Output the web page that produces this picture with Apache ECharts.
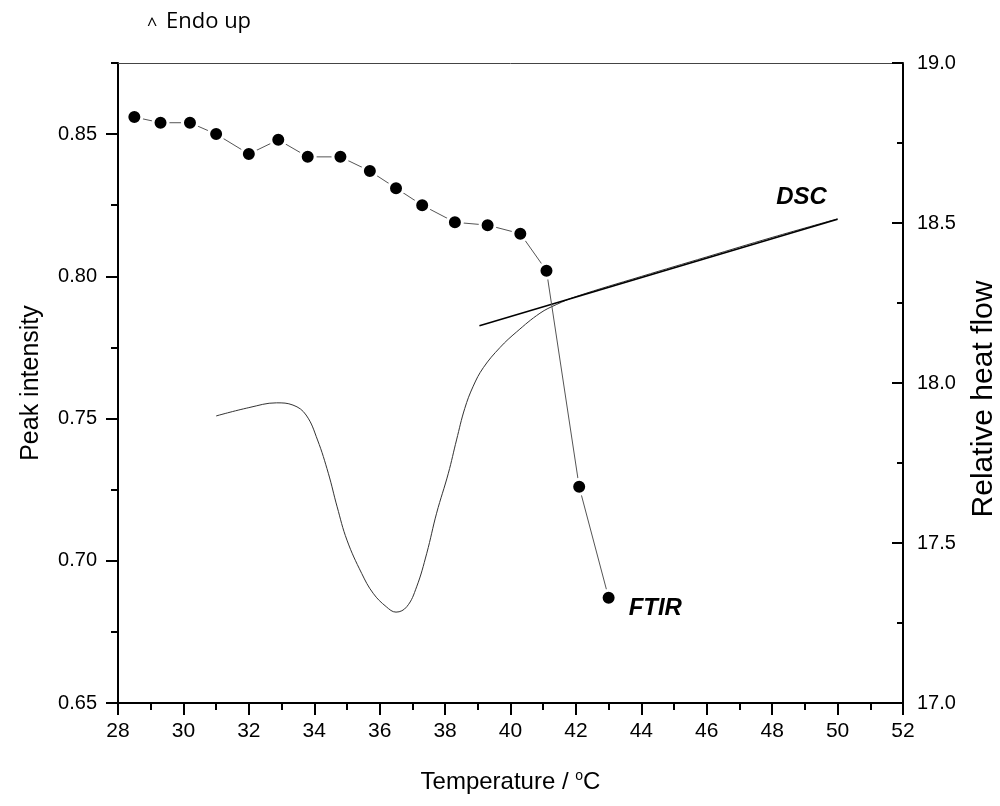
<!DOCTYPE html>
<html>
<head>
<meta charset="utf-8">
<script src="https://cdn.jsdelivr.net/npm/echarts@6/dist/echarts.min.js"></script>
<style>html,body{margin:0;padding:0;background:#fff}#c{width:1000px;height:806px}</style>
</head>
<body>
<div id="c"></div>
<script>
// FTIR peak intensity (left axis)
var ftirT = [28.5, 29.3, 30.2, 31.0, 32.0, 32.9, 33.8, 34.8, 35.7, 36.5, 37.3, 38.3, 39.3, 40.3, 41.1, 42.1, 43.0];
var ftirV = [0.856, 0.854, 0.854, 0.850, 0.843, 0.848, 0.842, 0.842, 0.837, 0.831, 0.825, 0.819, 0.818, 0.815, 0.802, 0.726, 0.687];
// DSC relative heat flow (right axis)
var dscT = [31.0, 32.0, 32.85, 33.35, 33.75, 34.1, 34.43, 34.7, 35.0, 35.45, 35.8, 36.2, 36.5, 36.83, 37.13, 37.44, 37.74, 38.1, 38.35, 38.6, 38.86, 39.17, 39.68, 40.19, 40.9, 41.4, 42.0, 44.0, 46.0, 48.0, 50.0];
var dscV = [17.897, 17.923, 17.938, 17.931, 17.900, 17.822, 17.718, 17.613, 17.509, 17.405, 17.343, 17.301, 17.284, 17.301, 17.363, 17.468, 17.593, 17.718, 17.822, 17.920, 17.990, 18.048, 18.111, 18.160, 18.218, 18.245, 18.270, 18.333, 18.394, 18.455, 18.513];
// DSC baseline
var baseT = [39.05, 50.0];
var baseV = [18.179, 18.512];
// tick labels
var leftMajor = [0.65, 0.70, 0.75, 0.80, 0.85];

function pairs(xs, ys) { return xs.map(function (x, i) { return [x, ys[i]]; }); }

var ftirData = pairs(ftirT, ftirV);
ftirData[ftirData.length - 1] = {
  value: ftirData[ftirData.length - 1],
  label: { show: true, formatter: 'FTIR', position: 'right', distance: 11, offset: [0, 11],
           fontFamily: 'Liberation Sans', fontSize: 24, fontWeight: 'bold', fontStyle: 'italic', color: '#000' }
};
var baseData = pairs(baseT, baseV);
baseData[1] = {
  value: baseData[1],
  label: { show: true, formatter: 'DSC', position: 'top', distance: 10, offset: [-36, 0],
           fontFamily: 'Liberation Sans', fontSize: 24, fontWeight: 'bold', fontStyle: 'italic', color: '#000' }
};

var font = 'Liberation Sans';
var chart = echarts.init(document.getElementById('c'), null, { renderer: 'canvas' });
chart.setOption({
  animation: false,
  backgroundColor: '#fff',
  grid: { left: 118, right: 97, top: 63, bottom: 103, containLabel: false, outerBoundsMode: 'none' },
  graphic: [{
    type: 'text', left: 147, top: 17,
    style: { text: '^', fill: '#000', font: '18px "Open Sans"' }
  }, {
    type: 'text', left: 166, top: 11,
    style: { text: 'Endo up', fill: '#000', font: '22px "Open Sans"' }
  }],
  xAxis: [{
    type: 'value', min: 28, max: 52, interval: 2,
    axisLine: { show: true, lineStyle: { color: '#000', width: 2 } },
    axisTick: { show: true, length: 12, inside: false, lineStyle: { color: '#000', width: 2 } },
    minorTick: { show: true, splitNumber: 2, length: 7, lineStyle: { color: '#000', width: 2 } },
    splitLine: { show: false },
    axisLabel: { margin: 18, fontFamily: font, fontSize: 21, color: '#000' },
    name: 'Temperature / {s|o}C', nameLocation: 'middle', nameGap: 66,
    nameTextStyle: { fontFamily: font, fontSize: 24, color: '#000',
      rich: { s: { fontSize: 14, fontFamily: font, verticalAlign: 'top', padding: [0, 0, 12, 0] } } }
  }, {
    type: 'value', min: 28, max: 52, position: 'top',
    axisLine: { show: true, lineStyle: { color: '#444', width: 1 } },
    axisTick: { show: false }, axisLabel: { show: false }, splitLine: { show: false }
  }],
  yAxis: [{
    type: 'value', min: 0.65, max: 0.875, position: 'left',
    axisLine: { show: true, lineStyle: { color: '#000', width: 2 } },
    axisTick: { show: true, length: 12, customValues: leftMajor, lineStyle: { color: '#000', width: 2 } },
    axisLabel: { customValues: leftMajor, margin: 21, fontFamily: font, fontSize: 20, color: '#000',
                 formatter: function (v) { return v.toFixed(2); } },
    splitLine: { show: false },
    name: 'Peak intensity', nameLocation: 'middle', nameGap: 74,
    nameTextStyle: { fontFamily: font, fontSize: 25, color: '#000' }
  }, {
    type: 'value', min: 17, max: 19, interval: 0.5, position: 'right',
    axisLine: { show: true, lineStyle: { color: '#000', width: 2 } },
    axisTick: { show: true, inside: true, length: 11, lineStyle: { color: '#000', width: 2 } },
    minorTick: { show: true, splitNumber: 2, length: 6, lineStyle: { color: '#000', width: 2 } },
    axisLabel: { margin: 14, fontFamily: font, fontSize: 20, color: '#000',
                 formatter: function (v) { return v.toFixed(1); } },
    splitLine: { show: false },
    name: 'Relative heat flow', nameLocation: 'middle', nameGap: 66,
    nameTextStyle: { fontFamily: font, fontSize: 30, color: '#000', padding: [0, 32, 0, 0] }
  }, {
    type: 'value', min: 0.65, max: 0.875, interval: 0.025, position: 'left',
    axisLine: { show: false },
    axisTick: { show: true, length: 7, lineStyle: { color: '#000', width: 2 } },
    axisLabel: { show: false }, splitLine: { show: false }
  }],
  series: [{
    name: 'DSC', type: 'line', xAxisIndex: 0, yAxisIndex: 1, data: pairs(dscT, dscV),
    smooth: 0.4, showSymbol: false, symbol: 'none',
    lineStyle: { color: '#333', width: 1 }, z: 2
  }, {
    name: 'Baseline', type: 'line', xAxisIndex: 0, yAxisIndex: 1, data: baseData,
    symbol: 'circle', symbolSize: 0.1, showSymbol: true,
    lineStyle: { color: '#000', width: 1.5 }, itemStyle: { color: 'rgba(0,0,0,0)' }, z: 2
  }, {
    name: 'FTIR', type: 'line', xAxisIndex: 0, yAxisIndex: 0, data: ftirData,
    symbol: 'circle', symbolSize: 15, showSymbol: true,
    lineStyle: { color: '#555', width: 1 },
    itemStyle: { color: '#000', borderColor: '#fff', borderWidth: 3 }, z: 3
  }]
});
</script>
</body>
</html>
